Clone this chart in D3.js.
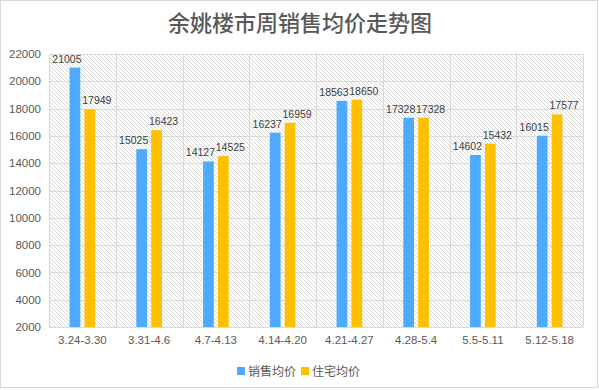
<!DOCTYPE html>
<html><head><meta charset="utf-8">
<script src="https://cdn.jsdelivr.net/npm/d3@7/dist/d3.min.js"></script>
<style>body{margin:0;background:#fff}svg{display:block}</style>
</head><body>
<script>
const categories = ["3.24-3.30","3.31-4.6","4.7-4.13","4.14-4.20","4.21-4.27","4.28-5.4","5.5-5.11","5.12-5.18"];
const salesAvg = [21005,15025,14127,16237,18563,17328,14602,16015];
const houseAvg = [17949,16423,14525,16959,18650,17328,15432,17577];
const seriesNames = ["销售均价","住宅均价"];
const yTicks = [2000,4000,6000,8000,10000,12000,14000,16000,18000,20000,22000];
const colors = ["#4DAAFF","#FFC000"];

const W = 599, H = 390;
const m = {left:49, right:16, top:54, bottom:63};
const svg = d3.select("body").append("svg").attr("width",W).attr("height",H);
const defs = svg.append("defs");
const pat = defs.append("pattern").attr("id","hatch").attr("patternUnits","userSpaceOnUse")
  .attr("width",4).attr("height",4);
pat.append("rect").attr("width",4).attr("height",4).attr("fill","#fff");
pat.append("path").attr("d","M-1,-1L5,5M-1,3L1,5M3,-1L5,1").attr("stroke","#cfcfcf").attr("stroke-width",0.8);

svg.append("rect").attr("x",0.5).attr("y",0.5).attr("width",597).attr("height",387)
  .attr("fill","#fff").attr("stroke","#d9d9d9");

const x = d3.scaleBand().domain(categories).range([m.left, W-m.right]);
const y = d3.scaleLinear().domain([2000,22000]).range([H-m.bottom, m.top]);
const x1 = d3.scaleBand().domain([0,1]).range([0,x.bandwidth()]).paddingInner(0.28).paddingOuter(1.38);

svg.append("rect").attr("x",m.left).attr("y",m.top).attr("width",W-m.left-m.right)
  .attr("height",H-m.top-m.bottom).attr("fill","url(#hatch)");

// grid
const g = svg.append("g");
g.selectAll("line.h").data(yTicks).join("line")
  .attr("x1",m.left).attr("x2",W-m.right)
  .attr("y1",d=>Math.round(y(d))+0.5).attr("y2",d=>Math.round(y(d))+0.5)
  .attr("stroke","#d9d9d9");
const bounds = categories.map(c=>x(c)).concat([x(categories[categories.length-1])+x.bandwidth()]);
g.selectAll("line.v").data(bounds).join("line")
  .attr("x1",d=>Math.round(d)+0.5).attr("x2",d=>Math.round(d)+0.5)
  .attr("y1",m.top).attr("y2",H-m.bottom)
  .attr("stroke","#d9d9d9");

// axes labels
const yAxis = d3.axisLeft(y).tickValues(yTicks).tickFormat(d3.format("d")).tickSize(0).tickPadding(8);
const ya = svg.append("g").attr("transform",`translate(${m.left},0)`).call(yAxis);
ya.select(".domain").remove();
ya.selectAll("text").attr("font-family","Liberation Sans, Arial").attr("font-size",11.5).attr("fill","#595959");

const xAxis = d3.axisBottom(x).tickSize(0).tickPadding(9);
const xa = svg.append("g").attr("transform",`translate(0,${H-m.bottom})`).call(xAxis);
xa.select(".domain").remove();
xa.selectAll("text").attr("font-family","Liberation Sans, Arial").attr("font-size",11.5).attr("fill","#595959");

const data = categories.map((c,i)=>({c, vals:[salesAvg[i], houseAvg[i]]}));
const groups = svg.append("g").selectAll("g").data(data).join("g")
  .attr("transform",d=>`translate(${x(d.c)},0)`);
groups.selectAll("rect").data(d=>d.vals.map((v,k)=>({v,k}))).join("rect")
  .attr("x",d=>x1(d.k)).attr("width",x1.bandwidth())
  .attr("y",d=>y(d.v)).attr("height",d=>y(2000)-y(d.v))
  .attr("fill",d=>colors[d.k]);
groups.selectAll("text").data(d=>d.vals.map((v,k)=>({v,k}))).join("text")
  .attr("x",d=>x1(d.k)+x1.bandwidth()/2+(d.k===0?-8:7))
  .attr("y",d=>y(d.v)-5)
  .attr("text-anchor","middle")
  .attr("font-family","Liberation Sans, Arial").attr("font-size",10.5).attr("fill","#404040")
  .text(d=>d.v);

// title
svg.append("text").attr("x",300).attr("y",31).attr("text-anchor","middle")
  .attr("font-family","Noto Sans CJK SC").attr("font-size",22).attr("font-weight",500)
  .attr("fill","#595959").text("余姚楼市周销售均价走势图");

// legend
const lg = svg.append("g");
const lx = [237, 301];
seriesNames.forEach((n,i)=>{
  lg.append("rect").attr("x",lx[i]).attr("y",367).attr("width",8).attr("height",8).attr("fill",colors[i]);
  lg.append("text").attr("x",lx[i]+11).attr("y",375.5)
    .attr("font-family","Noto Sans CJK SC").attr("font-size",12).attr("fill","#595959").text(n);
});
</script>
</body></html>
